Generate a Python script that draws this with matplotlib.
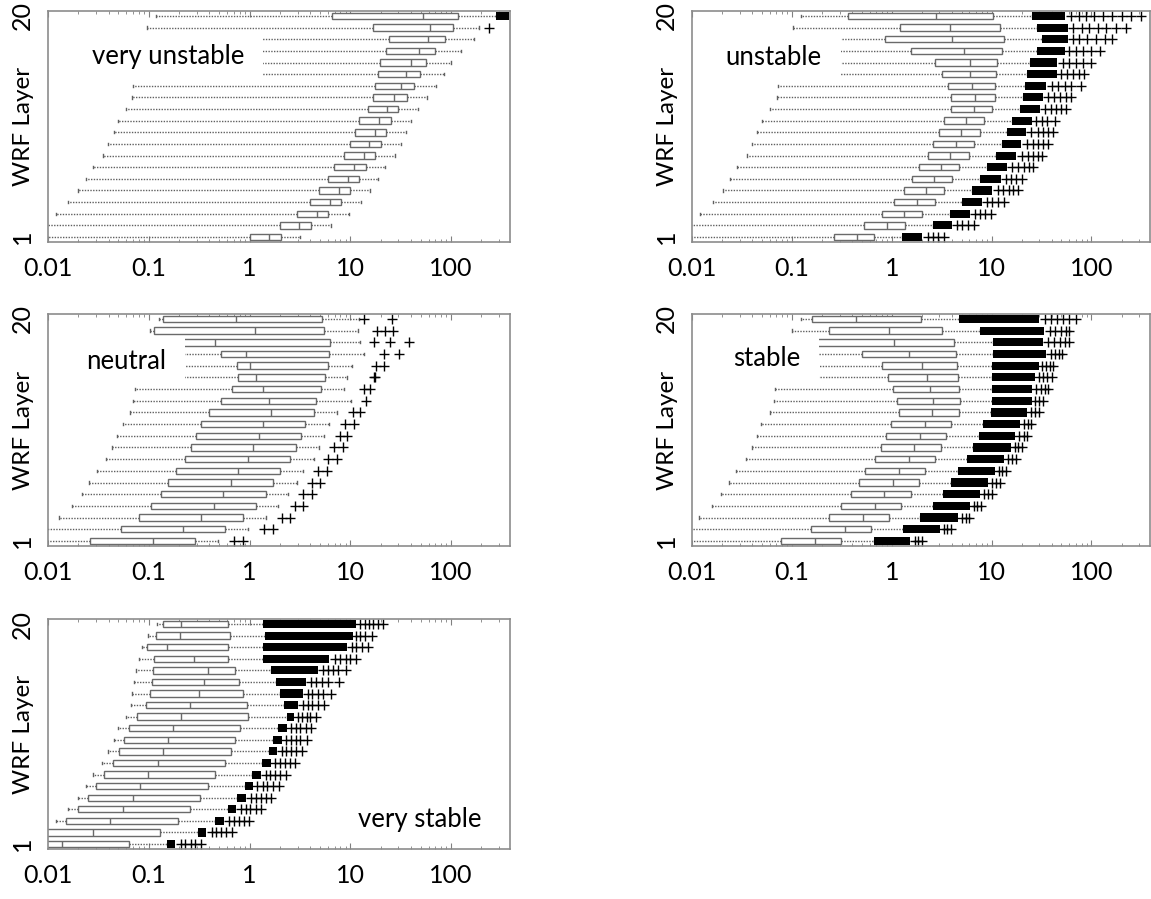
import matplotlib.pyplot as plt
from matplotlib.patches import Rectangle
from matplotlib.ticker import NullFormatter

plt.rcParams['font.family'] = ['Lato', 'DejaVu Sans']

layers = list(range(1, 21))
x_ticks = [0.01, 0.1, 1, 10, 100]
x_tick_labels = ['0.01', '0.1', '1', '10', '100']

# ---- very unstable (layer 1 .. 20)
vu_lo = [0.005, 0.005, 0.012, 0.0159, 0.02, 0.0238, 0.0278, 0.035, 0.039, 0.0447,
         0.049, 0.0595, 0.068, 0.07, 0.08, 0.08, 0.09, 0.09, 0.097, 0.119]
vu_q1 = [1.0, 1.99, 2.99, 3.98, 4.93, 6.0, 6.95, 8.67, 9.88, 11.2,
         12.3, 14.9, 16.7, 17.5, 18.9, 19.8, 22.8, 24.1, 16.9, 6.56]
vu_med = [1.56, 3.12, 4.69, 6.25, 7.73, 9.4, 10.9, 13.6, 15.5, 17.4,
          19.3, 23.3, 27.2, 31.6, 35.6, 40.4, 48.6, 59.3, 62.2, 52.8]
vu_q3 = [2.04, 4.05, 6.04, 8.05, 10.0, 12.1, 14.2, 17.7, 20.3, 22.8,
         25.3, 30.1, 36.6, 42.7, 49.5, 56, 69.2, 87, 104, 117]
vu_hi = [3.19, 6.4, 9.64, 12.8, 15.7, 19.0, 22.2, 27.9, 31.6, 35.6,
         39.7, 47.5, 58.3, 71.5, 85.5, 99, 127, 170, 191, 280]
vu_dense = [None] * 19 + [375]
vu_fliers = [[]] * 18 + [[238], []]

# ---- unstable
un_lo = [0.005, 0.005, 0.012, 0.0161, 0.0203, 0.0242, 0.0284, 0.0353, 0.04, 0.045,
         0.0502, 0.0604, 0.0703, 0.0733, 0.08, 0.08, 0.09, 0.09, 0.1026, 0.123]
un_q1 = [0.263, 0.528, 0.79, 1.05, 1.33, 1.6, 1.86, 2.3, 2.61, 2.96,
         3.3, 3.96, 3.9, 3.65, 3.16, 2.72, 1.55, 0.86, 1.22, 0.368]
un_med = [0.447, 0.897, 1.33, 1.79, 2.2, 2.67, 3.08, 3.87, 4.43, 4.98,
          5.56, 6.68, 6.85, 6.41, 6.04, 6.04, 5.24, 4.04, 3.8, 2.79]
un_q3 = [0.668, 1.35, 2.03, 2.72, 3.36, 4.04, 4.7, 5.89, 6.74, 7.59,
         8.45, 10.2, 10.7, 10.9, 11.1, 11.3, 12.6, 13.4, 12.0, 10.4]
un_hi = [1.28, 2.56, 3.8, 5.1, 6.41, 7.64, 9.04, 11.1, 12.6, 14.4,
         15.9, 19.3, 20.4, 21.7, 22.8, 24.2, 28.6, 31.9, 28.6, 25.2]
un_dense = [2.03, 4.04, 6.04, 8.1, 10.0, 12.3, 14.2, 17.7, 19.9, 22.2,
            25.2, 30.3, 32.4, 35.3, 45.4, 45.4, 53.7, 58.4, 58.4, 53.7]
un_fliers = [[2.3, 2.6, 2.9, 3.3], [4.5, 5.1, 5.8, 6.6], [6.8, 7.6, 8.5, 9.8],
             [9.0, 10.2, 11.5, 13.2], [11.5, 13, 15, 16.5, 18.5], [14, 15.5, 17.5, 20],
             [16, 18.5, 21, 23.5, 26], [20, 23, 26, 29, 32], [22.5, 26, 29, 33, 37],
             [25, 29, 33, 37, 41], [28, 32, 36, 43], [34, 39, 44, 50, 56],
             [37, 42, 48, 55, 63], [40, 46, 54, 63, 78], [50, 57, 65, 75, 85],
             [52, 60, 70, 82, 98], [60, 70, 82, 100, 122], [65, 75, 90, 110, 135, 160],
             [66, 80, 95, 115, 140, 175, 220], [62, 75, 88, 105, 130, 160, 200, 250, 310]]

# ---- neutral
ne_lo = [0.005, 0.005, 0.013, 0.0175, 0.0218, 0.0258, 0.0303, 0.0379, 0.0432, 0.0485,
         0.0549, 0.0647, 0.0702, 0.0738, 0.08, 0.08, 0.08, 0.08, 0.103, 0.125]
ne_q1 = [0.0264, 0.0531, 0.0794, 0.106, 0.131, 0.157, 0.185, 0.231, 0.264, 0.296,
         0.33, 0.395, 0.518, 0.674, 0.769, 0.75, 0.518, 0.2, 0.113, 0.137]
ne_med = [0.11, 0.218, 0.33, 0.44, 0.548, 0.652, 0.769, 0.96, 1.09, 1.23,
          1.37, 1.64, 1.55, 1.37, 1.15, 1.0, 0.929, 0.45, 1.13, 0.738]
ne_q3 = [0.286, 0.576, 0.863, 1.15, 1.45, 1.73, 2.01, 2.51, 2.87, 3.24,
         3.58, 4.32, 4.58, 5.09, 5.62, 6.0, 6.1, 6.26, 5.53, 5.26]
ne_hi = [0.485, 0.96, 1.47, 1.93, 2.43, 2.94, 3.43, 4.32, 4.89, 5.53,
         6.1, 7.31, 10.1, 8.69, 9.2, 10.4, 13.7, 12.6, 12.0, 12.3]
ne_dense = [None] * 20
ne_fliers = [[0.702, 0.869], [1.39, 1.71], [2.1, 2.53], [2.84, 3.43], [3.43, 4.15],
             [4.15, 5.06], [4.77, 5.86], [5.96, 7.38], [6.9, 8.49], [7.82, 9.36],
             [8.84, 10.9], [10.7, 12.6], [14.3], [13.7, 15.7], [17.1, 17.8],
             [18.2, 21.8], [21.5, 30.3], [17.3, 24.7, 38.2], [18.5, 22.2, 26.8], [13.6, 25.8]]

# ---- stable
st_lo = [0.005, 0.005, 0.0118, 0.0157, 0.0196, 0.0236, 0.0279, 0.0344, 0.0397, 0.0443,
         0.0493, 0.0604, 0.0657, 0.0685, 0.07, 0.07, 0.08, 0.08, 0.101, 0.123]
st_q1 = [0.0783, 0.156, 0.234, 0.311, 0.387, 0.466, 0.542, 0.679, 0.784, 0.875,
         0.975, 1.17, 1.14, 1.03, 0.912, 0.79, 0.506, 0.15, 0.234, 0.159]
st_med = [0.17, 0.341, 0.515, 0.679, 0.845, 1.02, 1.19, 1.49, 1.68, 1.91,
          2.15, 2.54, 2.56, 2.44, 2.24, 2.03, 1.49, 1.06, 0.935, 0.435]
st_q3 = [0.311, 0.625, 0.935, 1.24, 1.55, 1.86, 2.17, 2.72, 3.13, 3.5,
         3.9, 4.69, 4.81, 4.69, 4.61, 4.5, 4.43, 4.25, 3.16, 1.98]
st_hi = [0.662, 1.31, 1.94, 2.61, 3.27, 3.9, 4.58, 5.69, 6.58, 7.45,
         8.24, 9.84, 10.2, 10.2, 10.0, 10.0, 10.4, 10.3, 7.58, 4.69]
st_dense = [1.53, 3.03, 4.58, 6.04, 7.58, 9.2, 10.7, 13.2, 15.5, 17.3,
            19.1, 22.8, 25.2, 25.2, 27.4, 29.8, 35.3, 32.4, 33.8, 29.8]
st_fliers = [[1.7, 1.85, 2.0], [3.3, 3.6, 3.95], [5.0, 5.5, 6.0], [6.6, 7.2, 7.9],
             [8.3, 9.1, 10], [10, 11, 12], [11.8, 12.8, 14], [14.5, 16, 17.5],
             [17, 18.5, 20], [19, 21, 22.5], [21, 23, 25], [25, 27.5, 29.5],
             [27.5, 30, 33], [28, 31, 34, 37], [30, 33, 36, 40], [32, 35, 38, 41],
             [39, 43, 47, 51], [37, 42, 48, 54, 59], [38, 43, 49, 55, 60],
             [34, 39, 45, 52, 60, 70]]

# ---- very stable
vs_lo = [0.004, 0.004, 0.012, 0.0157, 0.0197, 0.0237, 0.0279, 0.0347, 0.0396, 0.0448,
         0.0494, 0.0592, 0.0659, 0.0686, 0.0715, 0.0745, 0.0807, 0.0863, 0.0992, 0.122]
vs_q1 = [0.008, 0.009, 0.015, 0.02, 0.0252, 0.0302, 0.0356, 0.0445, 0.0502, 0.0568,
         0.0632, 0.0757, 0.0937, 0.102, 0.108, 0.11, 0.112, 0.0968, 0.117, 0.138]
vs_med = [0.0139, 0.0279, 0.0413, 0.0559, 0.0697, 0.0828, 0.0976, 0.123, 0.14, 0.157,
          0.176, 0.211, 0.257, 0.313, 0.353, 0.384, 0.283, 0.151, 0.202, 0.211]
vs_q3 = [0.0643, 0.13, 0.194, 0.259, 0.325, 0.39, 0.459, 0.568, 0.653, 0.726,
         0.802, 0.968, 0.944, 0.871, 0.789, 0.721, 0.611, 0.611, 0.637, 0.611]
vs_hi = [0.153, 0.305, 0.452, 0.611, 0.757, 0.906, 1.07, 1.34, 1.55, 1.72,
         1.93, 2.33, 2.2, 2.0, 1.82, 1.64, 1.36, 1.36, 1.42, 1.36]
vs_dense = [0.183, 0.368, 0.555, 0.738, 0.929, 1.09, 1.29, 1.64, 1.86, 2.09,
            2.33, 2.74, 3.05, 3.36, 3.65, 4.79, 6.22, 9.37, 10.6, 11.5]
vs_fliers = [[0.21, 0.23, 0.26, 0.29, 0.33], [0.42, 0.47, 0.52, 0.58, 0.67],
             [0.62, 0.7, 0.78, 0.88, 0.98], [0.83, 0.92, 1.02, 1.15, 1.3],
             [1.03, 1.15, 1.3, 1.45, 1.65], [1.2, 1.35, 1.5, 1.7, 1.95],
             [1.45, 1.6, 1.8, 2.0, 2.3], [1.8, 2.0, 2.25, 2.5, 2.85],
             [2.1, 2.3, 2.6, 2.9, 3.3], [2.3, 2.6, 2.9, 3.2, 3.7],
             [2.6, 2.9, 3.2, 3.6, 4.1], [3.0, 3.3, 3.7, 4.0, 4.6],
             [3.4, 3.8, 4.2, 4.8, 5.5], [3.8, 4.2, 4.8, 5.4, 6.4],
             [4.1, 4.6, 5.2, 6.0, 7.8], [5.4, 6.0, 6.7, 7.5, 9.0],
             [7.0, 8.0, 9.0, 10.0, 11.5], [10.5, 11.5, 13, 15],
             [11.5, 12.5, 14, 16.5], [12.5, 14, 15.5, 17, 19, 21]]

GRAY = '#6a6a6a'


def draw_panel(rect, lo, q1, med, q3, hi, dense, fliers, label, label_xy, mask):
    ax = fig.add_axes(rect)
    stats = []
    for i in range(len(layers)):
        stats.append(dict(whislo=lo[i], q1=q1[i], med=med[i], q3=q3[i],
                          whishi=hi[i], fliers=fliers[i]))
    ax.bxp(stats, positions=layers, widths=0.55, orientation='horizontal',
           patch_artist=True, capwidths=0.2,
           boxprops=dict(facecolor='white', edgecolor=GRAY, linewidth=1.0),
           medianprops=dict(color=GRAY, linewidth=1.0),
           whiskerprops=dict(color='#606060', linewidth=1.0, linestyle=(0, (1, 1))),
           capprops=dict(color='#606060', linewidth=1.0),
           flierprops=dict(marker='+', markersize=6.5, markeredgecolor='black',
                           markeredgewidth=1.0, linestyle='none'))
    for i, d in enumerate(dense):
        if d is not None:
            ax.barh(layers[i], d - hi[i], left=hi[i], height=0.7,
                    color='black', zorder=3)
    ax.set_xscale('log')
    ax.set_xlim(0.01, 385)
    ax.set_ylim(0.57, 20.43)
    ax.set_xticks(x_ticks, x_tick_labels)
    ax.xaxis.set_minor_formatter(NullFormatter())
    ax.tick_params(axis='x', which='both', direction='in', top=True, bottom=True,
                   color='#808080', labelsize=18, pad=11)
    ax.tick_params(axis='x', which='major', length=4)
    ax.tick_params(axis='x', which='minor', length=2.5)
    ax.set_yticks([1, 20], ['1', '20'])
    ax.tick_params(axis='y', length=0, labelsize=18, pad=10)
    for t in ax.get_yticklabels():
        t.set_rotation(90)
        t.set_va('center')
    ax.set_ylabel('WRF Layer', fontsize=17.5)
    ax.yaxis.set_label_coords(-0.03, 0.5)
    for s in ax.spines.values():
        s.set_color('#8c8c8c')
        s.set_linewidth(1.2)
    if mask is not None:
        x0, x1, y0, y1 = mask
        ax.add_patch(Rectangle((x0, y0), x1 - x0, y1 - y0, facecolor='white',
                               edgecolor='none', zorder=4))
    ax.text(label_xy[0], label_xy[1], label, fontsize=18.5, ha='center', va='center',
            zorder=5)
    return ax


fig = plt.figure(figsize=(11.51, 8.99), dpi=100)

draw_panel([0.0417, 0.7308, 0.4014, 0.2570], vu_lo, vu_q1, vu_med, vu_q3, vu_hi,
           vu_dense, vu_fliers, 'very unstable', (0.155, 16.5), (0.0185, 1.35, 14.35, 18.6))
draw_panel([0.6012, 0.7308, 0.3979, 0.2570], un_lo, un_q1, un_med, un_q3, un_hi,
           un_dense, un_fliers, 'unstable', (0.065, 16.4), (0.0142, 0.31, 14.35, 18.6))
draw_panel([0.0417, 0.3927, 0.4014, 0.2581], ne_lo, ne_q1, ne_med, ne_q3, ne_hi,
           ne_dense, ne_fliers, 'neutral', (0.0596, 16.4), (0.0164, 0.228, 14.45, 18.5))
draw_panel([0.6012, 0.3927, 0.3979, 0.2581], st_lo, st_q1, st_med, st_q3, st_hi,
           st_dense, st_fliers, 'stable', (0.0556, 16.6), (0.0155, 0.188, 14.45, 18.5))
draw_panel([0.0417, 0.0556, 0.4014, 0.2558], vs_lo, vs_q1, vs_med, vs_q3, vs_hi,
           vs_dense, vs_fliers, 'very stable', (49, 3.16), None)

fig.savefig('out.png', dpi=100)
